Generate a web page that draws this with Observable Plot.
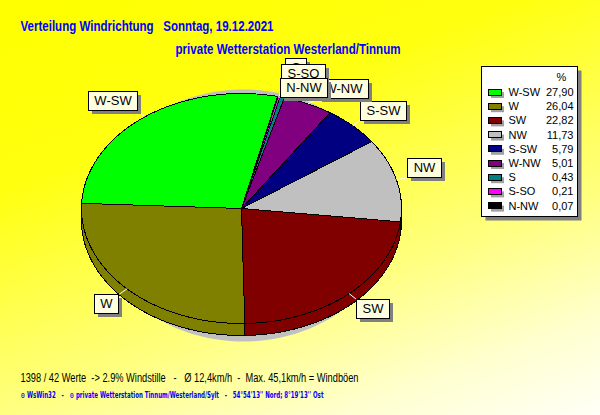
<!DOCTYPE html>
<html>
<head>
<meta charset="utf-8">
<script src="https://cdn.jsdelivr.net/npm/d3@7"></script>
<script src="https://cdn.jsdelivr.net/npm/@observablehq/plot@0.6"></script>
<style>
  html, body { margin: 0; padding: 0; background: #fff; }
  #chart svg { display: block; }
  #chart text { white-space: pre; }
</style>
</head>
<body>
<div id="chart"></div>
<script>
// Share of each wind direction over the day, in percent (largest first)
const directions = ["W-SW", "W", "SW", "NW", "S-SW", "W-NW", "S", "S-SO", "N-NW"];
const shares = [27.90, 26.04, 22.82, 11.73, 5.79, 5.01, 0.43, 0.21, 0.07];
const palette = ["#00ff00", "#808000", "#800000", "#c0c0c0", "#000080", "#800080", "#008080", "#ff00ff", "#000000"];

const titleText = "Verteilung Windrichtung   Sonntag, 19.12.2021";
const stationText = "private Wetterstation Westerland/Tinnum";
const statsText = "1398 / 42 Werte  -> 2.9% Windstille   -   Ø 12,4km/h  -  Max. 45,1km/h = Windböen";
const creditText = "⊙ WsWin32   -   ⊙ private Wetterstation Tinnum/Westerland/Sylt   -   54°54'13'' Nord; 8°19'13'' Ost";

// ---- pie geometry (tilted ellipse with a short side wall) ----
const W = 600, H = 415;
const cx = 241, cy = 208, rx = 160, ry = 115, depth = 12;
const rad = Math.PI / 180;
const start = 13 * rad;
const arcs = d3.pie().sort(null).startAngle(start).endAngle(start - 2 * Math.PI)(shares);
const at = (a, f = 1) => [cx + rx * f * Math.sin(a), cy - ry * f * Math.cos(a)];

function arcPts(a0, a1, dy = 0) {
  const n = Math.max(2, Math.ceil(Math.abs(a1 - a0) / (0.5 * rad)));
  return d3.range(n + 1).map(k => {
    const [x, y] = at(a0 + (a1 - a0) * k / n);
    return {x, y: y + dy};
  });
}

const faces = arcs.flatMap((d, i) =>
  [{x: cx, y: cy}, ...arcPts(d.startAngle, d.endAngle)].map(p => ({...p, name: directions[i]})));

const walls = arcs.flatMap((d, i) => {
  const hi = Math.min(d.startAngle, -0.5 * Math.PI);
  const lo = Math.max(d.endAngle, -1.5 * Math.PI);
  if (lo >= hi) return [];
  return [...arcPts(hi, lo), ...arcPts(lo, hi, depth)].map(p => ({...p, name: directions[i]}));
});

const shadow = d3.range(0, 360, 2).map(t => ({
  x: cx + 2 + 150 * Math.cos(t * rad),
  y: cy + 7 + 126 * Math.sin(t * rad)
}));

// ---- slice labels: boxed, with a corner on the slice's mid-angle ----
const labelFamily = "'Liberation Sans', Arial, sans-serif";
const ctx = document.createElement("canvas").getContext("2d");
ctx.font = `13px ${labelFamily}`;
const nudge = {"W-NW": [5.5, 2], "S": [0, -12], "S-SO": [0, -5.5], "N-NW": [0, 9]};
const labels = arcs.map((d, i) => {
  const name = directions[i];
  const mid = (d.startAngle + d.endAngle) / 2;
  const [x0, y0] = at(mid);
  let [px, py] = at(mid, 1.07);
  const [nx, ny] = nudge[name] || [0, 0];
  px += nx; py += ny;
  const w = Math.round(ctx.measureText(name).width + 12), h = 19;
  const right = Math.sin(mid) > 0, up = Math.cos(mid) > 0;
  const x1 = Math.round(right ? px : px - w);
  const y1 = Math.round(up ? py - h : py);
  return {name, x0, y0, px, py, x1, x2: x1 + w, y1, y2: y1 + h, cx: x1 + w / 2, cy: y1 + h / 2};
});

const labelMarks = labels.flatMap(l => [
  Plot.rect([l], {x1: d => d.x1 + 4, x2: d => d.x2 + 4, y1: d => d.y1 + 4, y2: d => d.y2 + 4, fill: "#808080"}),
  Plot.rect([l], {x1: "x1", x2: "x2", y1: "y1", y2: "y2", fill: "#ffffe0", stroke: "#000", strokeWidth: 1, shapeRendering: "crispEdges"}),
  Plot.text([l], {x: "cx", y: "cy", text: "name", fontSize: 13, fontFamily: labelFamily, fill: "#000"})
]);

// ---- legend ----
const legendBox = {x1: 481.5, x2: 577.5, y1: 66.5, y2: 216.5};
const legendRows = directions.map((name, i) => ({
  name,
  value: shares[i].toFixed(2).replace(".", ","),
  y: 92 + i * 14.2
}));

const titleFamily = "'Liberation Sans', Arial, sans-serif";

const chart = Plot.plot({
  width: W,
  height: H,
  margin: 0,
  x: {domain: [0, W], range: [0, W], axis: null},
  y: {domain: [0, H], range: [0, H], axis: null},
  color: {domain: directions, range: palette},
  marks: [
    // pie shadow, side wall, top faces
    Plot.line(shadow, {x: "x", y: "y", fill: "#c0c0c0", stroke: "none", curve: "linear-closed"}),
    Plot.line(walls, {x: "x", y: "y", z: "name", fill: "name", stroke: "#000", strokeWidth: 1, curve: "linear-closed", shapeRendering: "crispEdges"}),
    Plot.line(faces, {x: "x", y: "y", z: "name", fill: "name", stroke: "#000", strokeWidth: 1, curve: "linear-closed", shapeRendering: "crispEdges"}),
    // leader lines
    Plot.link(labels, {x1: "x0", y1: "y0", x2: "px", y2: "py", stroke: "#fff", strokeWidth: 1}),
    ...labelMarks,
    // legend box
    Plot.rect([legendBox], {x1: d => d.x1 + 4, x2: d => d.x2 + 4, y1: d => d.y1 + 4, y2: d => d.y2 + 4, fill: "#808080"}),
    Plot.rect([legendBox], {x1: "x1", x2: "x2", y1: "y1", y2: "y2", fill: "#fff", stroke: "#000", strokeWidth: 1, shapeRendering: "crispEdges"}),
    Plot.text(["%"], {x: 561, y: 77, text: d => d, fontSize: 11, fontFamily: labelFamily, fill: "#000"}),
    Plot.rect(legendRows, {x1: 491, x2: 504, y1: d => d.y, y2: d => d.y + 6, fill: "#a0a0a0"}),
    Plot.rect(legendRows, {x1: 488, x2: 501, y1: d => d.y - 3, y2: d => d.y + 3, fill: "name", stroke: "#000", strokeWidth: 1, shapeRendering: "crispEdges"}),
    Plot.text(legendRows, {x: 508, y: "y", text: "name", textAnchor: "start", fontSize: 11, fontFamily: labelFamily, fill: "#000"}),
    Plot.text(legendRows, {x: 573, y: "y", text: "value", textAnchor: "end", fontSize: 11, fontFamily: labelFamily, fill: "#000"}),
    // titles and footer
    Plot.text([titleText], {x: 20, y: 26, text: d => d, textAnchor: "start", fontSize: 14, fontWeight: "bold", fontFamily: titleFamily, fill: "#0000ff"}),
    Plot.text([stationText], {x: 175, y: 49, text: d => d, textAnchor: "start", fontSize: 14, fontWeight: "bold", fontFamily: titleFamily, fill: "#0000ff"}),
    Plot.text([statsText], {x: 20, y: 378, text: d => d, textAnchor: "start", fontSize: 12, fontFamily: labelFamily, fill: "#000"}),
    Plot.text([creditText], {x: 20, y: 395, text: d => d, textAnchor: "start", fontSize: 8, fontWeight: "bold", fontFamily: "'DejaVu Sans', sans-serif", fill: "#0000ff"})
  ]
});
chart.style.background = "linear-gradient(160deg, #ffff00 0%, #ffff10 30%, #ffff80 65%, #ffffd0 85%, #fffff8 100%)";

// The header and footer lines use a narrow face; squeeze them to their set widths.
const lineWidths = new Map([[titleText, 253], [stationText, 225], [statsText, 338], [creditText, 303]]);
chart.querySelectorAll("text").forEach(t => {
  const len = lineWidths.get(t.textContent);
  if (len) {
    t.setAttribute("textLength", len);
    t.setAttribute("lengthAdjust", "spacingAndGlyphs");
  }
});
document.getElementById("chart").appendChild(chart);
</script>
</body>
</html>
